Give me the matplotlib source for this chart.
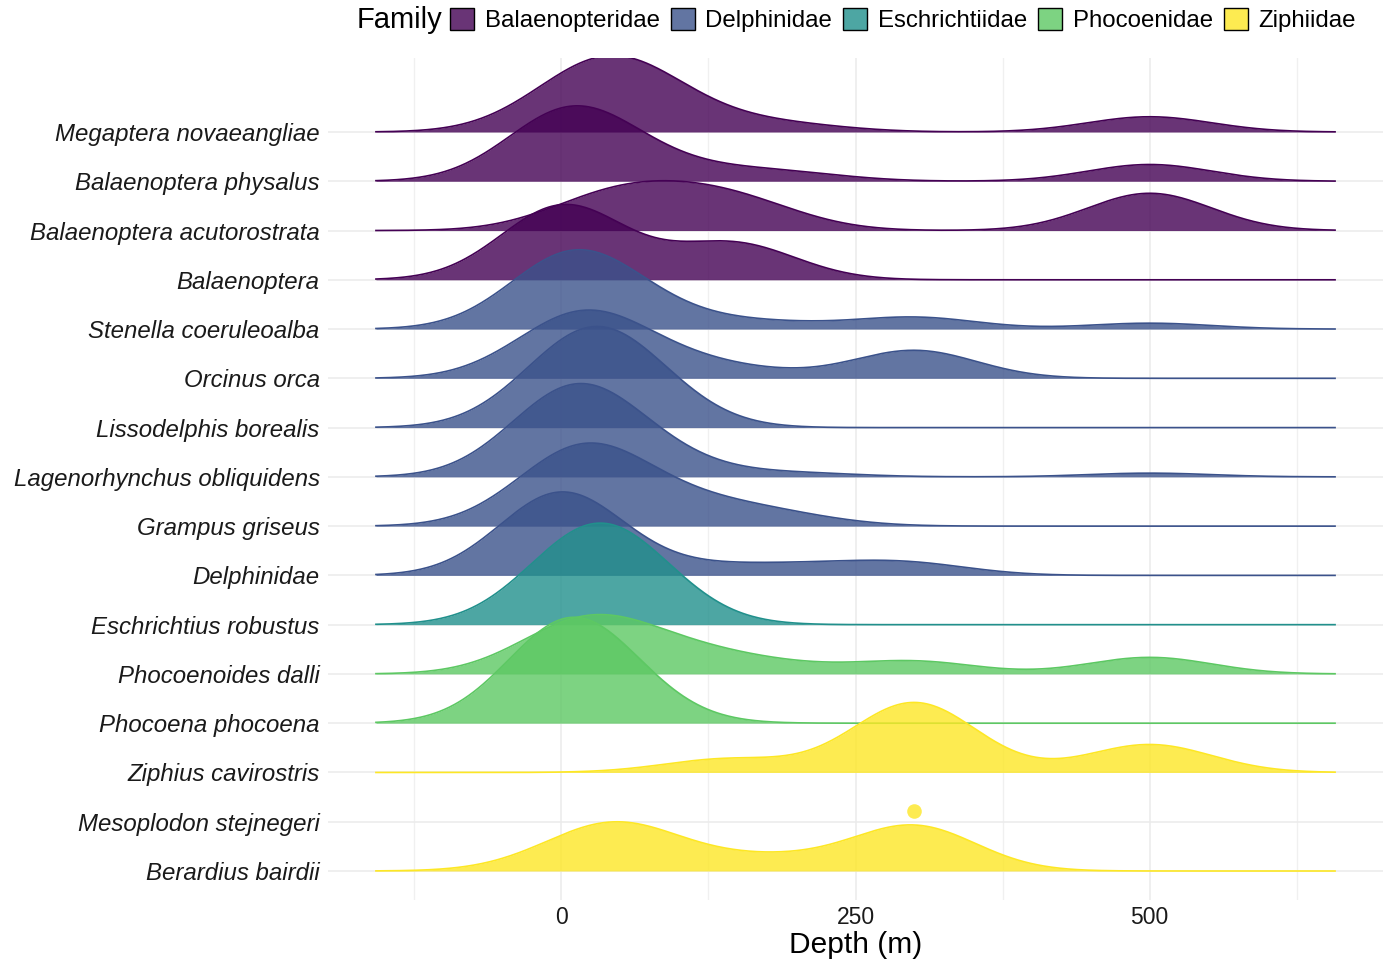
import numpy as np
import matplotlib
matplotlib.use('Agg')
import matplotlib.pyplot as plt
from matplotlib.patches import Patch

plt.rcParams['font.family'] = ['Liberation Sans', 'DejaVu Sans']

# depth levels (m) at which sightings were recorded
depth_levels = [0, 10, 25, 50, 75, 100, 125, 150, 175, 200, 250, 300, 500]

# number of sightings per depth level, one list per species
megaptera_novaeangliae     = [3, 0, 4, 6, 3, 1, 0, 1, 0, 1, 0, 0, 3]
balaenoptera_physalus      = [9, 0, 3, 2, 0, 1, 0, 1, 0, 1, 0, 0, 3]
balaenoptera_acutorostrata = [0, 0, 2, 2, 0, 3, 0, 2, 1, 0, 0, 0, 5]
balaenoptera               = [8, 2, 0, 0, 0, 0, 1, 4, 0, 0, 0, 0, 0]
stenella_coeruleoalba      = [8, 0, 4, 2, 0, 1, 0, 0, 1, 0, 0, 2, 1]
orcinus_orca               = [4, 0, 4, 2, 0, 1, 0, 1, 0, 0, 0, 4, 0]
lissodelphis_borealis      = [2, 0, 3, 2, 1, 0, 0, 0, 0, 0, 0, 0, 0]
lagenorhynchus_obliquidens = [14, 0, 8, 4, 0, 2, 0, 0, 0, 1, 0, 0, 1]
grampus_griseus            = [6, 0, 6, 3, 0, 2, 0, 2, 0, 1, 0, 0, 0]
delphinidae                = [17, 0, 0, 0, 0, 1, 0, 1, 0, 1, 1, 2, 0]
eschrichtius_robustus      = [2, 0, 3, 3, 1, 0, 0, 0, 0, 0, 0, 0, 0]
phocoenoides_dalli         = [5, 0, 5, 4, 0, 3, 0, 2, 0, 1, 0, 3, 4]
phocoena_phocoena          = [4, 1, 1, 1, 0, 0, 0, 0, 0, 0, 0, 0, 0]
ziphius_cavirostris        = [0, 0, 0, 0, 0, 0, 1, 2, 0, 0, 0, 15, 6]
mesoplodon_stejnegeri      = [0, 0, 0, 0, 0, 0, 0, 0, 0, 0, 0, 1, 0]
berardius_bairdii          = [1, 0, 1, 4, 1, 0, 0, 1, 0, 1, 0, 6, 0]

species = ['Megaptera novaeangliae', 'Balaenoptera physalus', 'Balaenoptera acutorostrata',
           'Balaenoptera', 'Stenella coeruleoalba', 'Orcinus orca', 'Lissodelphis borealis',
           'Lagenorhynchus obliquidens', 'Grampus griseus', 'Delphinidae',
           'Eschrichtius robustus', 'Phocoenoides dalli', 'Phocoena phocoena',
           'Ziphius cavirostris', 'Mesoplodon stejnegeri', 'Berardius bairdii']
family = ['Balaenopteridae'] * 4 + ['Delphinidae'] * 6 + ['Eschrichtiidae'] + \
         ['Phocoenidae'] * 2 + ['Ziphiidae'] * 3
counts = [megaptera_novaeangliae, balaenoptera_physalus, balaenoptera_acutorostrata,
          balaenoptera, stenella_coeruleoalba, orcinus_orca, lissodelphis_borealis,
          lagenorhynchus_obliquidens, grampus_griseus, delphinidae,
          eschrichtius_robustus, phocoenoides_dalli, phocoena_phocoena,
          ziphius_cavirostris, mesoplodon_stejnegeri, berardius_bairdii]

families = ['Balaenopteridae', 'Delphinidae', 'Eschrichtiidae', 'Phocoenidae', 'Ziphiidae']
family_colors = ['#440154', '#3B528B', '#21908C', '#5DC863', '#FDE725']
col = dict(zip(families, family_colors))

bw = 52.5          # joint bandwidth
scale = 2.15       # tallest ridge in row units
alpha = 0.8

levels = np.array(depth_levels, dtype=float)
lo, hi = levels.min() - 3 * bw, levels.max() + 3 * bw
x = np.linspace(lo, hi, 600)


def kde(c):
    c = np.asarray(c, dtype=float)
    k = np.exp(-0.5 * ((x[:, None] - levels[None, :]) / bw) ** 2) / (bw * np.sqrt(2 * np.pi))
    return (k * c).sum(axis=1) / c.sum()


dens = [kde(c) if sum(c) > 1 else None for c in counts]
dmax = max(d.max() for d in dens if d is not None)

fig = plt.figure(figsize=(13.83, 9.66), dpi=100)
ax = fig.add_axes([328 / 1383, 66 / 966, 1055 / 1383, 842 / 966])

n = len(species)
for i, (sp, fam, d) in enumerate(zip(species, family, dens)):
    y0 = n - i
    c = col[fam]
    if d is None:
        # single sighting: no density, just a point
        dep = levels[np.argmax(counts[i])]
        ax.plot([dep], [y0 + 0.22], 'o', color=c, alpha=alpha, ms=10.5, mew=0, zorder=10 + 2 * i)
        continue
    h = d / dmax * scale
    ax.fill_between(x, y0, y0 + h, color=c, alpha=alpha, lw=0, zorder=10 + 2 * i)
    ax.plot(x, y0 + h, color=c, lw=1.2, zorder=11 + 2 * i)

pad = 0.05 * (hi - lo)
ax.set_xlim(lo - pad, hi + pad)
ax.set_ylim(1 - 29 / 49.27, n + 74 / 49.27)

ax.set_yticks(np.arange(n, 0, -1))
ax.set_yticklabels(species, fontsize=17.3, fontstyle='italic', color='#1a1a1a')
ax.set_xticks([0, 250, 500])
ax.set_xticks([-125, 125, 375, 625], minor=True)
ax.tick_params(axis='x', labelsize=16.5, labelcolor='#1a1a1a', length=0, pad=4, which='both')
ax.tick_params(axis='y', length=0, pad=6)
ax.set_xlabel('Depth (m)', fontsize=21.5, labelpad=2)

ax.grid(True, which='major', color='#EBEBEB', lw=1.1, zorder=0)
ax.grid(True, which='minor', axis='x', color='#F0F0F0', lw=1.0, zorder=0)
ax.set_axisbelow(True)
for s in ax.spines.values():
    s.set_visible(False)

# legend along the top
handles = [Patch(facecolor=matplotlib.colors.to_rgba(c, alpha), edgecolor='black', lw=1.0)
           for c in family_colors]
fig.text(357 / 1383, 1 - 20 / 966, 'Family', fontsize=21, va='center', ha='left')
fig.legend(handles, families, loc='center left', bbox_to_anchor=(450 / 1383, 1 - 20 / 966),
           ncol=5, frameon=False, fontsize=17.3, handlelength=1.0, handleheight=1.0,
           handletextpad=0.45, columnspacing=0.45, borderpad=0, borderaxespad=0)

fig.savefig('out.png', dpi=100)
